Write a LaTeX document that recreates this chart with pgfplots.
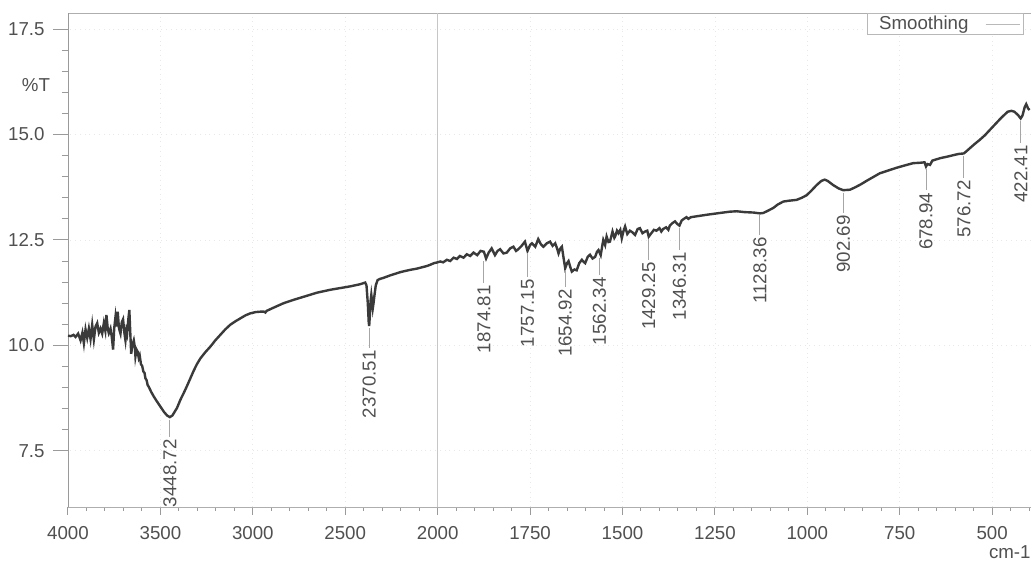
\documentclass[border=0pt]{standalone}
\usepackage{fontspec}
\setmainfont{Liberation Sans}
\usepackage{pgfplots}
\pgfplotsset{compat=1.18}
\definecolor{txt}{HTML}{505050}
\definecolor{trace}{HTML}{3A3A3A}
\definecolor{frame}{HTML}{9A9A9A}
\newcommand\lblfont{\fontsize{9.35}{11}\selectfont}

\begin{document}
\begin{tikzpicture}
\path[use as bounding box] (-34pt,-27pt) rectangle (482pt,253.5pt);
\begin{axis}[
  at={(0,0)}, anchor=south west,
  scale only axis, width=481.5pt, height=247pt,
  % wavenumber scale is compressed by a factor 2 above 2000 cm-1
  x coord trafo/.code={\pgfmathparse{#1>2000 ? 1000+#1/2 : #1}},
  x coord inv trafo/.code={\pgfmathparse{#1>2000 ? 2*#1-2000 : #1}},
  x dir=reverse,
  xmin=395, xmax=4000, ymin=6.17, ymax=17.88,
  axis x line=box, axis y line=left,
  y axis line style={-, draw=frame},
  x axis line style={draw=frame!80},
  xtick pos=left, ytick pos=left,
  tick align=outside,
  major tick length=7.5pt, minor tick length=3pt,
  xtick style={/pgfplots/major tick length=4pt, /pgfplots/minor tick length=2pt},
  tick style={frame, line width=0.5pt},
  xtick={500,750,1000,1250,1500,1750,2000,2500,3000,3500,4000},
  xticklabels={500,750,1000,1250,1500,1750,2000,2500,3000,3500,4000},
  minor xtick={400,450,550,600,650,700,800,850,900,950,1050,1100,1150,1200,1300,1350,1400,1450,1550,1600,1650,1700,1800,1850,1900,1950,2100,2200,2300,2400,2600,2700,2800,2900,3100,3200,3300,3400,3600,3700,3800,3900},
  ytick={7.5,10,12.5,15,17.5},
  yticklabels={7.5,10.0,12.5,15.0,17.5},
  minor y tick num=4,
  ymajorgrids, xmajorgrids,
  major grid style={gray!18, dotted},
  every tick label/.append style={font=\lblfont, text=txt},
  yticklabel style={anchor=east, inner sep=0pt, xshift=-4pt},
  xticklabel style={anchor=north, inner sep=0pt, yshift=-2pt},
  legend style={at={(0.992,1)}, anchor=north east, draw=frame!70, fill=white,
    font=\lblfont, text=txt, inner xsep=1pt, inner ysep=0pt,
    nodes={inner xsep=5pt, inner ysep=1.2pt}, cells={anchor=west}},
  legend plot pos=right,
  clip=false,
]
\draw[gray!45, line width=0.6pt] (axis cs:2000,6.17) -- (axis cs:2000,17.88);

\addplot[trace, line width=1.2pt,
  legend image code/.code={\path (0pt,0pt) (20pt,0pt);
    \draw[gray!55, line width=0.5pt] (3pt,0pt) -- (20pt,0pt);}]
  table[x=wn, y=T] {
wn T
4000 10.23
3985 10.22
3970 10.25
3959 10.20
3945 10.28
3932 10.12
3922 10.30
3914 10.05
3905 10.38
3896 10.18
3887 10.40
3878 10.15
3869 10.49
3860 10.14
3851 10.45
3842 10.53
3833 10.30
3824 10.40
3815 10.28
3806 10.53
3798 10.35
3792 10.72
3785 10.40
3779 10.29
3770 10.40
3763 10.20
3756 9.90
3750 10.40
3743 10.68
3737 10.45
3731 10.80
3724 10.40
3716 10.28
3709 10.55
3702 10.62
3695 10.30
3689 10.12
3684 10.35
3680 10.28
3674 10.60
3668 10.84
3663 10.30
3658 9.80
3652 10.00
3644 10.12
3638 9.95
3635 9.74
3629 9.90
3623 9.85
3617 9.70
3612 9.76
3605 9.55
3599 9.52
3592 9.38
3586 9.35
3581 9.22
3575 9.18
3569 9.06
3563 9.02
3550 8.90
3536 8.79
3520 8.68
3500 8.55
3480 8.42
3464 8.34
3449 8.30
3435 8.34
3428 8.39
3410 8.52
3392 8.71
3374 8.87
3356 9.04
3338 9.22
3320 9.40
3302 9.56
3284 9.69
3257 9.84
3230 9.97
3203 10.12
3176 10.25
3149 10.38
3122 10.49
3095 10.57
3068 10.64
3041 10.71
3014 10.76
2985 10.79
2959 10.80
2940 10.80
2932 10.78
2925 10.82
2905 10.86
2870 10.93
2834 11.00
2780 11.08
2720 11.16
2653 11.25
2580 11.32
2473 11.40
2420 11.45
2392 11.49
2385 11.42
2378 11.00
2373 10.55
2370.5 10.46
2367 10.70
2363 11.05
2359 11.20
2355 11.05
2351 10.88
2347 11.00
2341 11.22
2335 11.42
2325 11.55
2310 11.58
2294 11.60
2257 11.66
2200 11.74
2150 11.79
2113 11.82
2060 11.88
2041 11.91
2020 11.95
2000 11.97
1993 11.99
1985 11.97
1975 12.03
1966 12.00
1957 12.08
1948 12.05
1940 12.12
1930 12.08
1921 12.16
1912 12.12
1903 12.20
1893 12.14
1884 12.24
1875 12.22
1869 12.06
1862 12.20
1854 12.30
1845 12.14
1838 12.24
1831 12.28
1822 12.18
1813 12.20
1804 12.30
1795 12.34
1788 12.24
1782 12.28
1773 12.36
1764 12.46
1757 12.24
1750 12.38
1745 12.42
1736 12.34
1728 12.52
1721 12.40
1714 12.34
1705 12.42
1696 12.46
1689 12.36
1682 12.42
1677 12.30
1673 12.18
1668 12.30
1664 12.34
1659 12.05
1655 11.83
1650 11.95
1646 12.00
1641 11.85
1637 11.75
1630 11.80
1624 11.78
1617 11.95
1610 12.03
1605 11.98
1601 11.95
1594 12.10
1588 12.15
1581 12.06
1574 12.10
1569 12.22
1565 12.26
1559 12.14
1555 12.35
1552 12.50
1547 12.38
1543 12.58
1538 12.45
1534 12.46
1527 12.70
1522 12.55
1520 12.58
1515 12.72
1511 12.66
1506 12.74
1502 12.54
1497 12.72
1493 12.82
1487 12.64
1480 12.72
1473 12.68
1466 12.62
1459 12.76
1453 12.78
1446 12.66
1439 12.70
1433 12.72
1429 12.58
1422 12.66
1415 12.74
1408 12.72
1400 12.78
1395 12.70
1390 12.76
1382 12.80
1376 12.74
1372 12.84
1365 12.90
1358 12.94
1352 12.88
1346 12.84
1340 12.96
1334 13.00
1327 13.04
1322 13.00
1315 13.04
1300 13.06
1270 13.10
1236 13.14
1210 13.17
1191 13.18
1170 13.16
1146 13.15
1128 13.13
1119 13.14
1105 13.20
1092 13.26
1080 13.34
1065 13.41
1050 13.43
1029 13.45
1015 13.50
1002 13.56
990 13.66
975 13.80
962 13.90
953 13.93
945 13.90
930 13.80
915 13.72
903 13.68
885 13.69
870 13.75
855 13.82
840 13.90
820 14.00
804 14.08
780 14.15
759 14.21
735 14.27
714 14.32
695 14.33
683 14.34
679 14.24
675 14.30
668 14.28
662 14.38
655 14.40
640 14.44
624 14.47
600 14.52
590 14.54
577 14.55
570 14.60
561 14.67
548 14.77
534 14.87
520 14.98
505 15.12
489 15.27
475 15.40
458 15.54
448 15.56
440 15.54
430 15.46
423 15.38
418 15.45
412 15.65
408 15.72
403 15.62
399 15.58
};
\addlegendentry{Smoothing}

% peak markers: short drop line with the wavenumber written upward below it
\tikzset{pk/.style={draw=gray!70, line width=0.5pt},
         pklbl/.style={rotate=90, anchor=east, font=\lblfont, text=txt, inner sep=1pt}}
\draw[pk] (axis cs:3448.72,8.24) -- (axis cs:3448.72,7.83) node[pklbl]{3448.72};
\draw[pk] (axis cs:2370.51,10.41) -- (axis cs:2370.51,9.94) node[pklbl]{2370.51};
\draw[pk] (axis cs:1874.81,12.00) -- (axis cs:1874.81,11.48) node[pklbl]{1874.81};
\draw[pk] (axis cs:1757.15,12.18) -- (axis cs:1757.15,11.62) node[pklbl]{1757.15};
\draw[pk] (axis cs:1654.92,11.78) -- (axis cs:1654.92,11.39) node[pklbl]{1654.92};
\draw[pk] (axis cs:1562.34,12.08) -- (axis cs:1562.34,11.67) node[pklbl]{1562.34};
\draw[pk] (axis cs:1429.25,12.53) -- (axis cs:1429.25,12.03) node[pklbl]{1429.25};
\draw[pk] (axis cs:1346.31,12.79) -- (axis cs:1346.31,12.26) node[pklbl]{1346.31};
\draw[pk] (axis cs:1128.36,13.08) -- (axis cs:1128.36,12.62) node[pklbl]{1128.36};
\draw[pk] (axis cs:902.69,13.62) -- (axis cs:902.69,13.14) node[pklbl]{902.69};
\draw[pk] (axis cs:678.94,14.18) -- (axis cs:678.94,13.68) node[pklbl]{678.94};
\draw[pk] (axis cs:576.72,14.50) -- (axis cs:576.72,13.97) node[pklbl]{576.72};
\draw[pk] (axis cs:422.41,15.32) -- (axis cs:422.41,14.80) node[pklbl]{422.41};

\node[font=\lblfont, text=txt] at (axis description cs:-0.0332,0.854) {\%T};
\node[font=\lblfont, text=txt, anchor=east, inner sep=0pt] at (axis description cs:1.0,-0.091) {cm-1};
\end{axis}
\end{tikzpicture}
\end{document}
